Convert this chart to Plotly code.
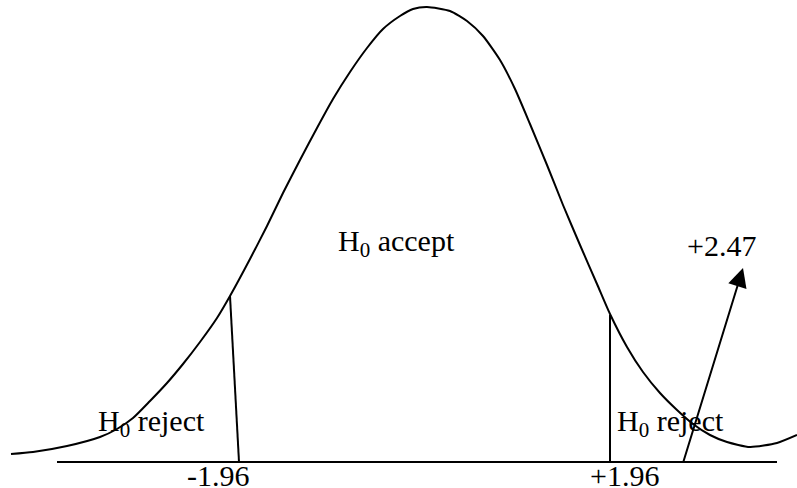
import plotly.graph_objects as go

curve_x = [11, 33, 67, 100, 117, 133, 150, 167, 183, 200, 217, 230, 250, 267, 283, 300, 317, 333,
           350, 367, 383, 400, 413, 427, 450, 467, 483, 500, 515, 530, 547, 563, 580, 597,
           610, 627, 643, 660, 677, 693, 710, 727, 750, 777, 797]
curve_y = [454, 452, 446, 437, 429, 418, 401, 383, 364, 342, 318, 296, 259, 226, 193, 160, 128, 99,
           72, 48, 29, 16, 9, 7, 11, 21, 36, 60, 89, 124, 165, 205, 245, 284,
           314, 347, 372, 393, 410, 424, 435, 442, 447, 443, 435]

# base line
base_x = [57, 777]
base_y = [462, 462]

# critical value lines (top on curve, bottom on base line)
left_crit_x = [230, 239]
left_crit_y = [296, 462]
right_crit_x = [610, 610]
right_crit_y = [315, 462]

# arrow to test statistic
arrow_from = (683, 463)
arrow_to = (743, 268)

labels = {
    "accept": "H<sub>0</sub> accept",
    "reject": "H<sub>0</sub> reject",
    "crit_lo": "-1.96",
    "crit_hi": "+1.96",
    "stat": "+2.47",
}

LINE = dict(color="black", width=2)
FONT = dict(family="Liberation Serif, Times New Roman, serif", size=30, color="black")

fig = go.Figure()
fig.add_trace(go.Scatter(x=curve_x, y=curve_y, mode="lines",
                         line=dict(color="black", width=2, shape="spline", smoothing=0.6),
                         hoverinfo="skip"))
for xs, ys in [(base_x, base_y), (left_crit_x, left_crit_y), (right_crit_x, right_crit_y)]:
    fig.add_trace(go.Scatter(x=xs, y=ys, mode="lines", line=LINE, hoverinfo="skip"))

fig.add_annotation(x=arrow_to[0], y=arrow_to[1], ax=arrow_from[0], ay=arrow_from[1],
                   xref="x", yref="y", axref="x", ayref="y", text="",
                   showarrow=True, arrowhead=2, arrowsize=1.9, arrowwidth=2,
                   arrowcolor="black", standoff=0, startstandoff=0)

def label(text, x, y):
    fig.add_annotation(x=x, y=y, xref="x", yref="y", text=text, showarrow=False,
                       xanchor="left", yanchor="middle", font=FONT)

label(labels["accept"], 336, 243)
label(labels["reject"], 96, 423)
label(labels["reject"], 615, 423)
label(labels["crit_lo"], 185, 475)
label(labels["crit_hi"], 588, 475)
label(labels["stat"], 685, 245)

fig.update_layout(
    width=797, height=488,
    margin=dict(l=0, r=0, t=0, b=0),
    paper_bgcolor="white", plot_bgcolor="white",
    showlegend=False,
    xaxis=dict(range=[0, 797], visible=False, fixedrange=True),
    yaxis=dict(range=[488, 0], visible=False, fixedrange=True),
)

fig.write_html("out.html", config={"displayModeBar": False},
               post_script="document.body.style.margin='0';document.body.style.padding='0';")
